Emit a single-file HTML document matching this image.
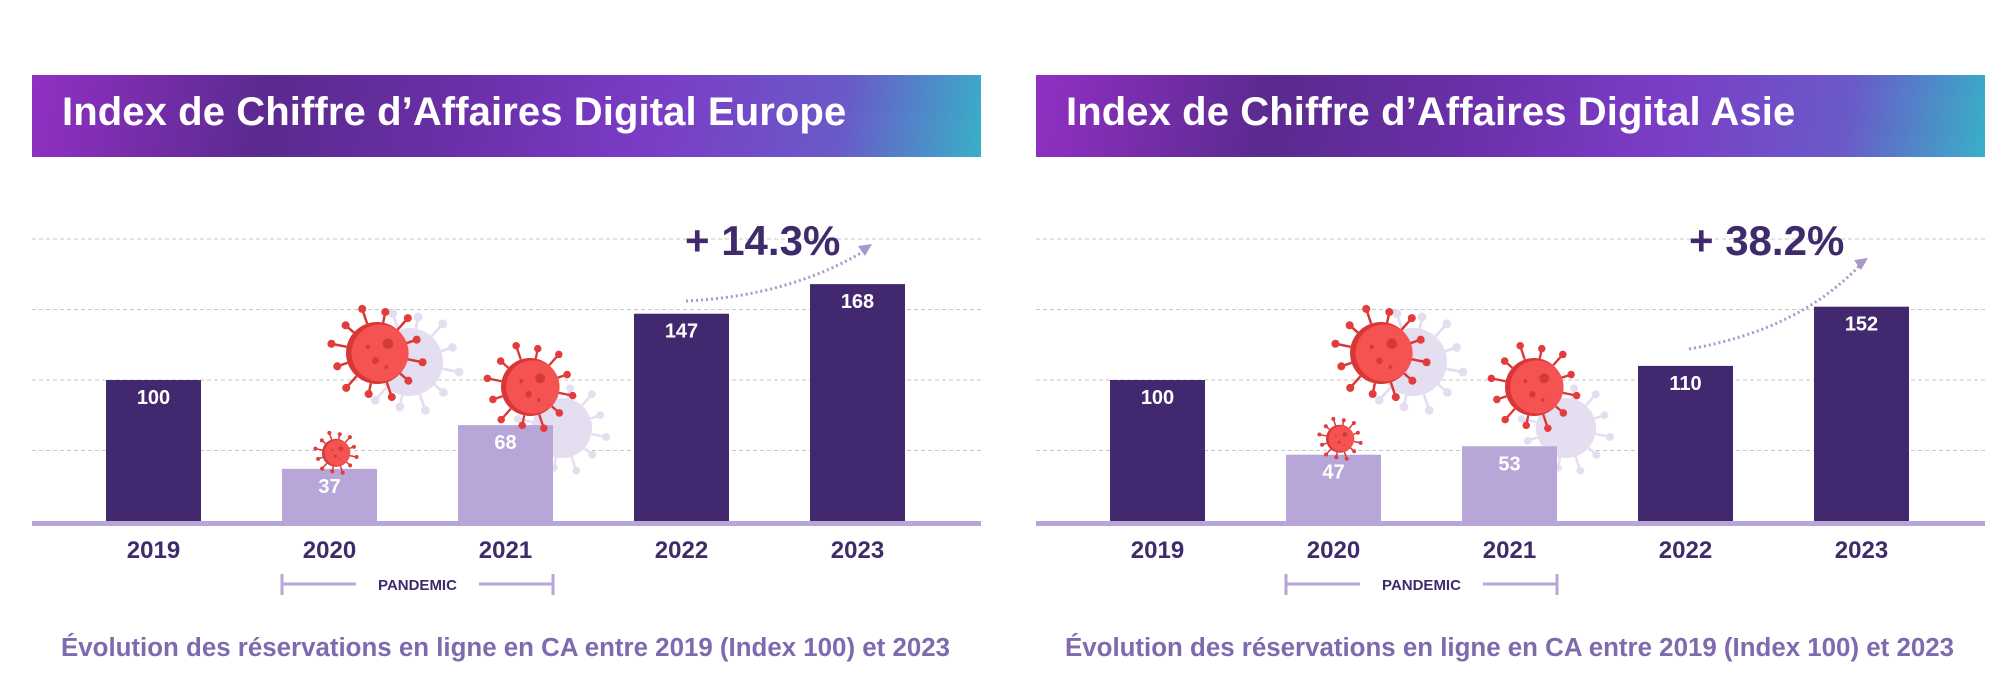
<!DOCTYPE html>
<html><head><meta charset="utf-8">
<style>
html,body{margin:0;padding:0;background:#fff;}
body{width:2000px;height:684px;overflow:hidden;position:relative;font-family:"Liberation Sans",sans-serif;}
.hdr{position:absolute;top:75px;height:82px;background:linear-gradient(100deg,#9130c4 0%,#5a2a8e 25%,#6a2fa8 45%,#7b3cc6 65%,#6a5ac8 85%,#38b0c8 100%);}
.hdr span{position:absolute;left:30px;top:15px;color:#fff;font-weight:bold;font-size:40px;letter-spacing:0.1px;}
</style></head>
<body>
<div class="hdr" style="left:32px;width:949px;"><span>Index de Chiffre d’Affaires Digital Europe</span></div>
<div class="hdr" style="left:1036px;width:949px;"><span>Index de Chiffre d’Affaires Digital Asie</span></div>
<svg id="chart" width="2000" height="684" style="position:absolute;left:0;top:0" xmlns="http://www.w3.org/2000/svg"></svg>
<script>
const categories = ["2019","2020","2021","2022","2023"];
const europeValues = [100,37,68,147,168];
const asiaValues = [100,47,53,110,152];
const pandemicFlags = [false,true,true,false,false];
const gridTicks = [50,100,150,200];
const europeGrowth = "+ 14.3%";
const asiaGrowth = "+ 38.2%";

const NS="http://www.w3.org/2000/svg";
const svg=document.getElementById('chart');
function mk(tag,attrs,parent){const e=document.createElementNS(NS,tag);for(const k in attrs)e.setAttribute(k,attrs[k]);(parent||svg).appendChild(e);return e;}
const baseY=521, unit=1.41;
function yScale(v){return baseY-v*unit;}

function virus(g,cx,cy,r,ghost){
  const col=ghost?"#e4def0":"#f24a4a";
  const n=12;
  for(let i=0;i<n;i++){
    const a=i/n*Math.PI*2+0.2;
    const len=r*(i%2?0.35:0.5);
    const x1=cx+Math.cos(a)*r,y1=cy+Math.sin(a)*r;
    const x2=cx+Math.cos(a)*(r+len),y2=cy+Math.sin(a)*(r+len);
    mk('line',{x1:x1,y1:y1,x2:x2,y2:y2,stroke:ghost?col:"#d93636","stroke-width":Math.max(1.5,r*0.08)},g);
    mk('circle',{cx:x2,cy:y2,r:Math.max(2,r*0.13),fill:ghost?col:"#e23c3c"},g);
  }
  mk('circle',{cx:cx,cy:cy,r:r,fill:ghost?col:"#d93636"},g);
  if(!ghost){
    mk('circle',{cx:cx+r*0.1,cy:cy,r:r*0.92,fill:"#f55252"},g);
    mk('circle',{cx:cx+r*0.35,cy:cy-r*0.3,r:r*0.17,fill:"#d33a3a"},g);
    mk('circle',{cx:cx-r*0.05,cy:cy+r*0.25,r:r*0.11,fill:"#d33a3a"},g);
    mk('circle',{cx:cx-r*0.3,cy:cy-r*0.2,r:r*0.07,fill:"#d33a3a"},g);
    mk('circle',{cx:cx+r*0.3,cy:cy+r*0.45,r:r*0.06,fill:"#d33a3a"},g);
  }
}

function drawPanel(ox,values,growth,name,arrow){
  const g=mk('g',{});
  
  
  gridTicks.forEach(t=>{
    const l=mk('line',{x1:ox,x2:ox+949,y1:yScale(t),y2:yScale(t),stroke:"#c8c8c8","stroke-width":1,"stroke-dasharray":"4,3"},g);
    
    
  });
  const gg=mk('g',{},g);
  
  
  virus(gg,ox+377,362,34,true);
  virus(gg,ox+530,428,30,true);
  const step=176, bw=95, x0=ox+74;
  categories.forEach((c,i)=>{
    const x=x0+i*step, y=yScale(values[i]);
    const b=mk('rect',{x:x,y:y,width:bw,height:baseY-y,fill:pandemicFlags[i]?"#b8a6d9":"#42286f"},g);
    
    
    const vl=mk('text',{x:x+bw/2,y:y+24,"text-anchor":"middle",fill:"#fff","font-size":20,"font-weight":"bold"},g);
    vl.textContent=values[i];
    
    
    const yl=mk('text',{x:x+bw/2,y:558,"text-anchor":"middle",fill:"#3f2a6b","font-size":24,"font-weight":"bold"},g);
    yl.textContent=c;
    
    
  });
  const vg=mk('g',{},g);
  
  
  virus(vg,ox+345,353,31,false);
  virus(vg,ox+498,387,29,false);
  virus(vg,ox+304,yScale(values[1])-16,14,false);
  const ax=mk('rect',{x:ox,y:baseY,width:949,height:5,fill:"#b8a6d9"},g);
  
  
  const pg=mk('g',{stroke:"#b8a6d9","stroke-width":3},g);
  
  
  const px1=x0+step, px2=x0+2*step+bw;
  mk('line',{x1:px1,x2:px1,y1:574,y2:595},pg);
  mk('line',{x1:px2,x2:px2,y1:574,y2:595},pg);
  mk('line',{x1:px1,x2:px1+74,y1:584,y2:584},pg);
  mk('line',{x1:px2-74,x2:px2,y1:584,y2:584},pg);
  const pt=mk('text',{x:(px1+px2)/2,y:590,"text-anchor":"middle",fill:"#3f2a6b","font-size":15,"font-weight":"bold"},g);
  pt.textContent="PANDEMIC";
  
  
  const a=mk('path',{d:arrow,fill:"none",stroke:"#a898cc","stroke-width":3,"stroke-dasharray":"2,3"},g);
  
  
  const gt=mk('text',{x:ox+653,y:255,fill:"#3f2a6b","font-size":42,"font-weight":"bold"},g);
  gt.textContent=growth;
  
  
  const ft=mk('text',{x:ox+29,y:656,fill:"#7e6aae","font-size":25.5,"font-weight":"bold",textLength:889,lengthAdjust:"spacingAndGlyphs"},g);
  ft.textContent="Évolution des réservations en ligne en CA entre 2019 (Index 100) et 2023";
  
  
}
drawPanel(32,europeValues,europeGrowth,'europe',"M686 301 Q790 296 866 250");
drawPanel(1036,asiaValues,asiaGrowth,'asia',"M1689 349 Q1800 330 1862 263");
[[872,244,'europe'],[1868,258,'asia']].forEach(p=>{
  const h=mk('path',{d:`M${p[0]} ${p[1]} l-14 2 l7 10 z`,fill:"#a898cc"});
  
  
});
</script>
</body></html>
